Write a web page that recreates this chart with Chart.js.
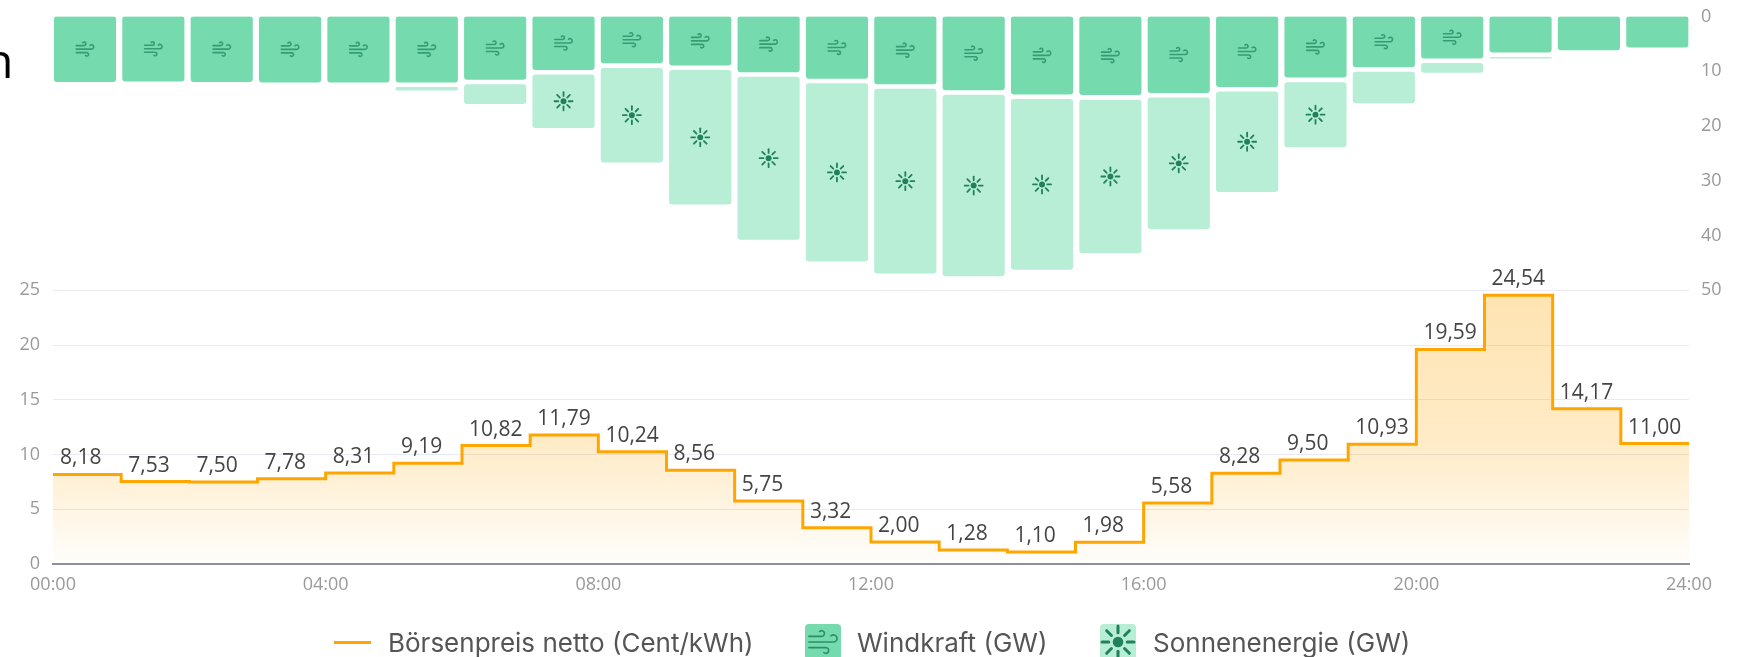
<!DOCTYPE html>
<html lang="de">
<head>
<meta charset="utf-8">
<title>Börsenpreis</title>
<script src="https://cdn.jsdelivr.net/npm/chart.js@4"></script>
<style>
  html, body { margin: 0; padding: 0; background: #fff; overflow: hidden; }
  #stage { position: relative; width: 1739px; height: 657px; overflow: hidden; }
  #cut { position: absolute; left: -16px; top: 20px; font: 48px/80px "Open Sans", sans-serif; color: #000; }
  .item { position: absolute; top: 625px; height: 36px; font: 26px/36px Inter, sans-serif; color: #555; white-space: nowrap; }
  .swatch { position: absolute; top: 624px; }
  #priceKey { position: absolute; left: 334px; top: 641px; width: 37px; height: 3px; background: #ffa500; }
</style>
</head>
<body>
<div id="stage">
  <div id="cut">n</div>
  <canvas id="chart" width="1739" height="657"></canvas>
  <div id="priceKey"></div>
  <div class="item" style="left:388px">Börsenpreis netto (Cent/kWh)</div>
  <canvas class="swatch" id="windKey" width="36" height="36" style="left:805px"></canvas>
  <div class="item" style="left:857px">Windkraft (GW)</div>
  <canvas class="swatch" id="sunKey" width="36" height="36" style="left:1100px"></canvas>
  <div class="item" style="left:1153px">Sonnenenergie (GW)</div>
</div>
<script>
const HOURS = [0, 1, 2, 3, 4, 5, 6, 7, 8, 9, 10, 11, 12, 13, 14, 15, 16, 17, 18, 19, 20, 21, 22, 23];
const PRICES = [8.18, 7.53, 7.5, 7.78, 8.31, 9.19, 10.82, 11.79, 10.24, 8.56, 5.75, 3.32, 2.0, 1.28, 1.1, 1.98, 5.58, 8.28, 9.5, 10.93, 19.59, 24.54, 14.17, 11.0];
const WIND = [11.9, 11.8, 11.9, 12.0, 12.0, 12.0, 11.5, 9.7, 8.5, 8.9, 10.1, 11.3, 12.3, 13.4, 14.2, 14.3, 13.9, 12.8, 11.1, 9.2, 7.6, 6.5, 6.1, 5.6];
const SOLAR = [0, 0, 0, 0, 0, 1.46, 4.4, 10.6, 18.1, 25.4, 30.6, 33.4, 34.6, 34.0, 32.0, 28.9, 24.9, 19.2, 12.7, 6.6, 2.6, 1.1, 0, 0];

const WIND_COLOR = "#75dbae";
const SOLAR_COLOR = "#b8edd6";
const PRICE_COLOR = "#ffa500";
const TICK_COLOR = "#999";
const GRID_COLOR = "#e7eaf5";
const TICK_FONT = { family: "'Open Sans'", size: 18 };

// white space between the wind bar and the solar bar under it, in GW
const STACK_GAP = 0.95;
const ICON_MIN_HEIGHT = 38;

const WIND_PATHS = [
  new Path2D("M17.7 7.7a2.5 2.5 0 1 1 1.8 4.3H2"),
  new Path2D("M9.6 4.6A2 2 0 1 1 11 8H2"),
  new Path2D("M12.6 19.4A2 2 0 1 0 14 16H2"),
];

function drawWind(ctx, cx, cy, size, color, lineWidth) {
  ctx.save();
  ctx.translate(cx - size / 2, cy - size / 2);
  ctx.scale(size / 24, size / 24);
  ctx.strokeStyle = color;
  ctx.lineWidth = lineWidth * 24 / size;
  ctx.lineCap = "round";
  WIND_PATHS.forEach((p) => ctx.stroke(p));
  ctx.restore();
}

function drawSun(ctx, cx, cy, size, color, lineWidth) {
  const r = size / 2;
  ctx.save();
  ctx.strokeStyle = color;
  ctx.fillStyle = color;
  ctx.lineWidth = lineWidth;
  ctx.lineCap = "round";
  for (let i = 0; i < 8; i++) {
    const a = (i * Math.PI) / 4;
    ctx.beginPath();
    ctx.moveTo(cx + Math.cos(a) * r * 0.58, cy + Math.sin(a) * r * 0.58);
    ctx.lineTo(cx + Math.cos(a) * r, cy + Math.sin(a) * r);
    ctx.stroke();
  }
  ctx.beginPath();
  ctx.arc(cx, cy, r * 0.33, 0, Math.PI * 2);
  ctx.fill();
  ctx.restore();
}

const barIcons = {
  id: "barIcons",
  afterDatasetsDraw(chart) {
    const ctx = chart.ctx;
    chart.getDatasetMeta(1).data.forEach((bar) => {
      if (Math.abs(bar.base - bar.y) >= ICON_MIN_HEIGHT) {
        drawWind(ctx, bar.x, (bar.base + bar.y) / 2, 21, "#359c74", 1.6);
      }
    });
    chart.getDatasetMeta(2).data.forEach((bar) => {
      if (Math.abs(bar.base - bar.y) >= ICON_MIN_HEIGHT) {
        drawSun(ctx, bar.x, (bar.base + bar.y) / 2, 18, "#1f8259", 1.8);
      }
    });
  },
};

const priceLabels = {
  id: "priceLabels",
  afterDatasetsDraw(chart) {
    const ctx = chart.ctx;
    const x = chart.scales.x;
    const y = chart.scales.yPrice;
    ctx.save();
    ctx.font = "21px 'Open Sans'";
    ctx.fillStyle = "#444";
    ctx.textAlign = "left";
    ctx.textBaseline = "middle";
    PRICES.forEach((price, i) => {
      ctx.fillText(price.toFixed(2).replace(".", ","), x.getPixelForValue(HOURS[i] + 0.5) - 27, y.getPixelForValue(price) - 16);
    });
    ctx.restore();
  },
};

function priceFill(context) {
  const { chart } = context;
  if (!chart.chartArea) return "transparent";
  const y = chart.scales.yPrice;
  const gradient = chart.ctx.createLinearGradient(0, y.getPixelForValue(Math.max(...PRICES)), 0, y.getPixelForValue(0));
  gradient.addColorStop(0, "rgba(255,165,0,0.3)");
  gradient.addColorStop(0.55, "rgba(255,165,0,0.22)");
  gradient.addColorStop(0.8, "rgba(255,165,0,0.11)");
  gradient.addColorStop(1, "rgba(255,165,0,0.01)");
  return gradient;
}

// the plot box is fixed, tick labels may hang over its edges
function fixWidth(width) {
  return (s) => {
    s.width = width;
    s.paddingTop = 0;
    s.paddingBottom = 0;
  };
}

function init() {
  const pricePoints = HOURS.map((h, i) => ({ x: h, y: PRICES[i] }));
  pricePoints.push({ x: 24, y: PRICES[PRICES.length - 1] });

  new Chart(document.getElementById("chart"), {
    data: {
      datasets: [
        {
          type: "line",
          label: "Börsenpreis netto (Cent/kWh)",
          data: pricePoints,
          xAxisID: "x",
          yAxisID: "yPrice",
          stepped: "before",
          borderColor: PRICE_COLOR,
          borderWidth: 3,
          pointRadius: 0,
          fill: "origin",
          backgroundColor: priceFill,
        },
        {
          type: "bar",
          label: "Windkraft (GW)",
          data: HOURS.map((h, i) => ({ x: h + 0.5, y: [0, WIND[i]] })),
          xAxisID: "xBars",
          yAxisID: "yWind",
          grouped: false,
          backgroundColor: WIND_COLOR,
          barThickness: 61.5,
          borderRadius: 3,
          borderSkipped: false,
        },
        {
          type: "bar",
          label: "Sonnenenergie (GW)",
          data: HOURS.filter((h, i) => SOLAR[i] > 0).map((h) => ({ x: h + 0.5, y: [WIND[h] + STACK_GAP, WIND[h] + SOLAR[h]] })),
          xAxisID: "xBars",
          yAxisID: "yWind",
          grouped: false,
          backgroundColor: SOLAR_COLOR,
          barThickness: 61.5,
          borderRadius: 3,
          borderSkipped: false,
        },
      ],
    },
    options: {
      responsive: false,
      animation: false,
      layout: { padding: { top: 16.5 } },
      plugins: { legend: { display: false }, tooltip: { enabled: false } },
      scales: {
        x: {
          type: "linear",
          min: 0,
          max: 24,
          afterFit: (s) => {
            s.height = 93;
            s.paddingLeft = 0;
            s.paddingRight = 0;
          },
          grid: { display: false, drawTicks: false },
          border: { color: "#8f8f9b", width: 2 },
          ticks: {
            stepSize: 4,
            autoSkip: false,
            maxRotation: 0,
            padding: 10,
            color: TICK_COLOR,
            font: TICK_FONT,
            callback: (v) => `${String(v).padStart(2, "0")}:00`,
          },
        },
        xBars: { type: "linear", display: false, offset: false, min: 0.032, max: 23.964 },
        yPrice: {
          position: "left",
          min: 0,
          max: 50,
          afterFit: fixWidth(53),
          afterBuildTicks: (s) => { s.ticks = s.ticks.filter((t) => t.value <= 25); },
          grid: { color: GRID_COLOR, drawTicks: false },
          border: { display: false },
          ticks: { stepSize: 5, padding: 13, color: TICK_COLOR, font: TICK_FONT },
        },
        yWind: {
          position: "right",
          reverse: true,
          min: 0,
          max: 100,
          afterFit: fixWidth(50),
          afterBuildTicks: (s) => { s.ticks = s.ticks.filter((t) => t.value <= 50); },
          grid: { display: false, drawTicks: false },
          border: { display: false },
          ticks: { stepSize: 10, padding: 12, color: TICK_COLOR, font: TICK_FONT },
        },
      },
    },
    plugins: [barIcons, priceLabels],
  });

  const windKey = document.getElementById("windKey").getContext("2d");
  windKey.fillStyle = WIND_COLOR;
  windKey.beginPath();
  windKey.roundRect(0, 0, 36, 36, 4);
  windKey.fill();
  drawWind(windKey, 18, 18, 34, "#2b8f68", 1.6);

  const sunKey = document.getElementById("sunKey").getContext("2d");
  sunKey.fillStyle = SOLAR_COLOR;
  sunKey.beginPath();
  sunKey.roundRect(0, 0, 36, 36, 4);
  sunKey.fill();
  drawSun(sunKey, 18, 18, 32, "#1f8259", 3);
}

init();
</script>
</body>
</html>
